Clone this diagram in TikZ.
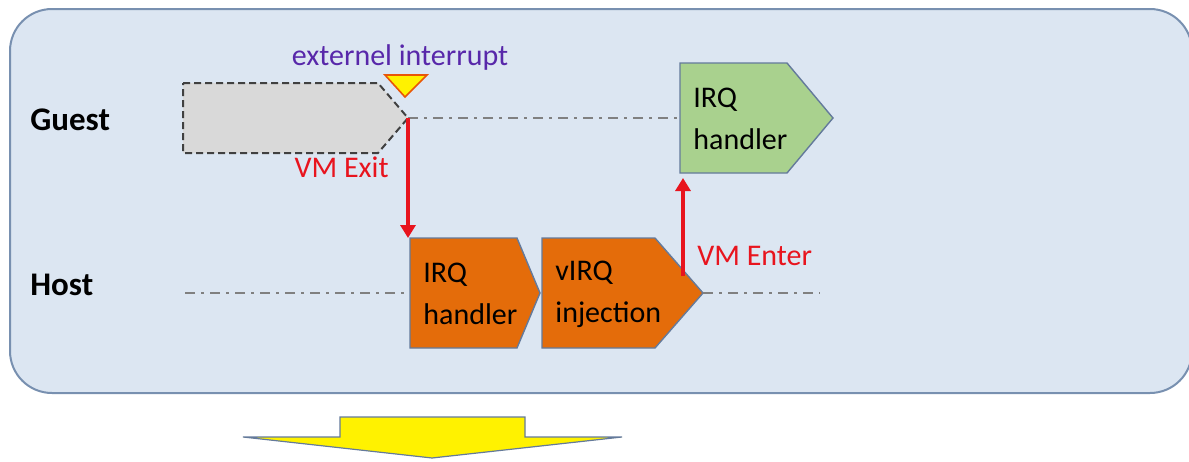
\documentclass[tikz,border=0pt]{standalone}
\usepackage{fontspec}
\setmainfont{Carlito}
\usepackage{tikz}
\usetikzlibrary{arrows.meta,positioning,calc}
\definecolor{BGc}{RGB}{220,230,242}
\definecolor{BGline}{RGB}{120,144,176}
\definecolor{OrangeBox}{RGB}{228,108,10}
\definecolor{GreenBox}{RGB}{169,209,142}
\definecolor{BoxLine}{RGB}{100,122,155}
\definecolor{ExitRed}{RGB}{232,20,30}
\definecolor{IntPurple}{RGB}{88,40,170}
\tikzset{
  stage/.style={draw=BoxLine,line width=0.7pt},
  timeline/.style={draw=black!50,line width=0.9pt,dash pattern=on 5pt off 3pt on 1.5pt off 3pt},
  vmarrow/.style={draw=ExitRed,line width=1.6pt,-{Triangle[width=7.5pt,length=6.5pt]}},
  boxtext/.style={font=\fontsize{15}{21}\selectfont,align=left,inner sep=0pt,anchor=west},
  lane/.style={font=\fontsize{16.5}{19}\selectfont\bfseries,inner sep=0pt,anchor=west},
}

\begin{document}
\begin{tikzpicture}[x=0.5pt,y=-0.5pt]
  \useasboundingbox (0,0) rectangle (1189,461);
  % panel
  \draw[fill=BGc,draw=BGline,line width=1pt,rounded corners=21pt] (10,9) rectangle (1192,393);
  \node[lane] (guest) at (30,120) {Guest};
  \node[lane] (host) at (30,285) {Host};

  % guest side
  \draw[fill=black!15,draw=black!75,line width=1pt,dash pattern=on 3.5pt off 2pt]
    (183,83) -- (378,83) -- (408,118) -- (378,153) -- (183,153) -- cycle;
  \coordinate (exit) at (408,118);
  \draw[fill=yellow,draw=OrangeBox!80!red,line width=0.8pt] (385,75) -- (427,75) -- (405,97) -- cycle;
  \node[text=IntPurple,font=\fontsize{15}{17}\selectfont,inner sep=0pt] (irq) at (400,57) {externel interrupt};
  \draw[stage,fill=GreenBox] (680,63) -- (787,63) -- (833,118) -- (787,173) -- (680,173) -- cycle;
  \coordinate (gin) at (680,118);
  \coordinate (genter) at (683,178);
  \node[boxtext] (ghandler) at (693,119) {IRQ\\handler};
  \draw[timeline] (exit) -- (gin);

  % host side
  \draw[stage,fill=OrangeBox] (410,238) -- (517,238) -- (540,293) -- (517,348) -- (410,348) -- cycle;
  \draw[stage,fill=OrangeBox] (542,238) -- (655,238) -- (703,293) -- (655,348) -- (542,348) -- cycle;
  \coordinate (hin) at (410,293);
  \coordinate (hentry) at (408,238);
  \coordinate (hout) at (703,293);
  \coordinate (hleave) at (683,276);
  \coordinate (hstart) at (185,293);
  \coordinate (hend) at (820,293);
  \node[boxtext] (hhandler) at (423,294) {IRQ\\handler};
  \node[boxtext] (vinject) at (555,294) {vIRQ\\injection};
  \draw[timeline] (hstart) -- (hin);
  \draw[timeline] (hout) -- (hend);

  % transitions
  \draw[vmarrow] (exit) -- (hentry);
  \draw[vmarrow] (hleave) -- (genter);
  \node[text=ExitRed,font=\fontsize{15}{18}\selectfont,inner sep=0pt,anchor=east] (vmexit) at (389,167) {VM Exit};
  \node[text=ExitRed,font=\fontsize{15}{18}\selectfont,inner sep=0pt,anchor=west] (vmenter) at (697,256) {VM Enter};

  % big arrow
  \draw[fill=yellow,draw=BoxLine,line width=0.6pt]
    (340,417) -- (525,417) -- (525,437) -- (622,437) -- (432,458) -- (243,437) -- (340,437) -- cycle;
\end{tikzpicture}
\end{document}
